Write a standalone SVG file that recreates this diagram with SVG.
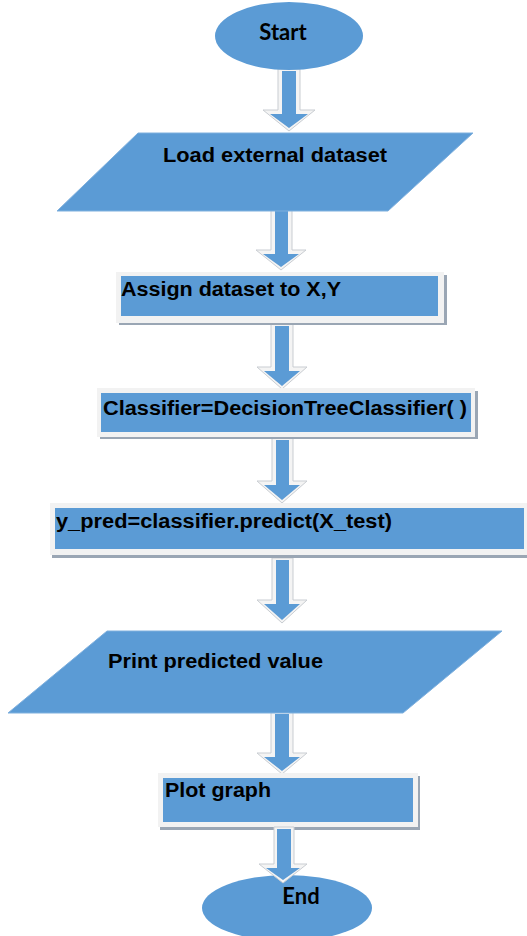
<svg xmlns="http://www.w3.org/2000/svg" width="527" height="936" viewBox="0 0 527 936">
<style>
.blue{fill:#5b9bd5;}
.para{fill:#5b9bd5;stroke:#7fb0de;stroke-width:1;}
.frame{fill:#f2f2f2;}
.shadow{fill:#9aa6b4;}
.aout{fill:#f4f4f4;stroke:#c9cdd2;stroke-width:1;stroke-linejoin:miter;}
.ain{fill:#5b9bd5;}
.lbl{font-family:"Liberation Sans",Arial,sans-serif;font-weight:bold;font-size:20px;fill:#000;}
.term{font-family:Lato,"Liberation Sans",sans-serif;font-weight:bold;font-size:22px;fill:#000;}
</style>
<rect width="527" height="936" fill="#fff"/>
<g id="connectors">
  <g id="a1"><path class="aout" d="M278,69H300V110H315L289,131L263,110H278Z"/><path class="ain" d="M282,71H296V114H308L289,128L270,114H282Z"/></g>
  <g id="a2"><path class="aout" d="M271,209H292V250H306L281,270L256,250H271Z"/><path class="ain" d="M275,211H288V254H299L281,267L263,254H275Z"/></g>
  <g id="a3"><path class="aout" d="M271,324H293V367H307L282,389L257,367H271Z"/><path class="ain" d="M275,326H289V371H300L282,386L264,371H275Z"/></g>
  <g id="a4"><path class="aout" d="M272,438H293V481H307L282,503L257,481H272Z"/><path class="ain" d="M276,440H289V485H300L282,500L264,485H276Z"/></g>
  <g id="a5"><path class="aout" d="M272,558H293V600H307L282,623L257,600H272Z"/><path class="ain" d="M276,560H289V604H300L282,620L264,604H276Z"/></g>
  <g id="a6"><path class="aout" d="M271,712H293V753H307L282,774L257,753H271Z"/><path class="ain" d="M275,714H289V757H300L282,771L264,757H275Z"/></g>
</g>
<g id="start">
  <ellipse class="blue" cx="289" cy="36" rx="74" ry="34"/>
  <text class="term" x="283" y="40" text-anchor="middle">Start</text>
</g>
<g id="load">
  <polygon class="para" points="138,133 473,133 388,211 57,211"/>
  <text class="lbl" x="163" y="162" textLength="224" lengthAdjust="spacingAndGlyphs">Load external dataset</text>
</g>
<g id="assign">
  <rect class="shadow" x="119" y="275" width="328" height="50"/>
  <rect class="frame" x="116" y="272" width="328" height="51"/>
  <rect class="blue" x="121" y="276" width="317" height="40"/>
  <text class="lbl" x="121" y="296" textLength="220" lengthAdjust="spacingAndGlyphs">Assign dataset to X,Y</text>
</g>
<g id="classifier">
  <rect class="shadow" x="100" y="391" width="378" height="48"/>
  <rect class="frame" x="97" y="388" width="378" height="49"/>
  <rect class="blue" x="101" y="393" width="370" height="39"/>
  <text class="lbl" x="103" y="415" textLength="364" lengthAdjust="spacingAndGlyphs">Classifier=DecisionTreeClassifier( )</text>
</g>
<g id="ypred">
  <rect class="shadow" x="52" y="506" width="475" height="52"/>
  <rect class="frame" x="50" y="503" width="477" height="52"/>
  <rect class="blue" x="55" y="508" width="469" height="41"/>
  <text class="lbl" x="56" y="528" textLength="336" lengthAdjust="spacingAndGlyphs">y_pred=classifier.predict(X_test)</text>
</g>
<g id="print">
  <polygon class="para" points="107,631 502,631 403,713 8,713"/>
  <text class="lbl" x="108" y="668" textLength="215" lengthAdjust="spacingAndGlyphs">Print predicted value</text>
</g>
<g id="plot">
  <rect class="shadow" x="160" y="776" width="260" height="54"/>
  <rect class="frame" x="158" y="773" width="260" height="54"/>
  <rect class="blue" x="163" y="778" width="250" height="44"/>
  <text class="lbl" x="165" y="797" textLength="106" lengthAdjust="spacingAndGlyphs">Plot graph</text>
</g>
<g id="end">
  <ellipse class="blue" cx="287" cy="908" rx="85" ry="33"/>
  <text class="term" x="301" y="904" text-anchor="middle">End</text>
</g>
<g id="a7connector">
  <path class="aout" d="M274,827H294V864H307L283,883L259,864H274Z"/><path class="ain" d="M277,829H291V868H300L283,880L266,868H277Z"/>
</g>
</svg>
